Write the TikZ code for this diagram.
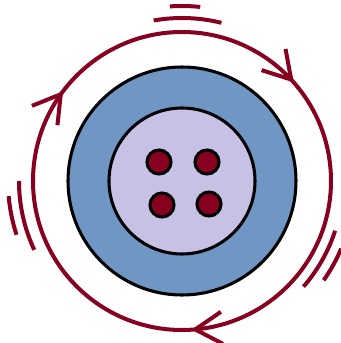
\documentclass[tikz,border=0pt]{standalone}
\usepackage{xcolor}
\usepackage{tikz}
\usetikzlibrary{arrows.meta,decorations.markings}

\definecolor{wine}{RGB}{135,0,32}
\definecolor{shellblue}{RGB}{112,150,196}
\definecolor{corelilac}{RGB}{200,193,230}

\begin{document}
\begin{tikzpicture}[x=0.75pt, y=0.75pt, line width=2.3pt,
    spin/.style={wine, line width=3pt}]
  \useasboundingbox (0,0) rectangle (341,343);
  \coordinate (c) at (182,162);
  % shells
  \filldraw[fill=shellblue] (c) circle (114);
  \filldraw[fill=corelilac] (c) circle (73);
  % four dots in the core
  \foreach \x/\y in {159/181, 207/181, 162/138, 209/139}
    \filldraw[fill=wine] (\x,\y) circle (12);
  % orbit, running clockwise
  \draw[spin, postaction={decorate}, decoration={markings,
      mark=at position 0.135 with {\arrow{Straight Barb[length=20pt,width=24pt]}},
      mark=at position 0.490 with {\arrow{Straight Barb[length=20pt,width=24pt]}},
      mark=at position 0.853 with {\arrow{Straight Barb[length=20pt,width=24pt]}}}]
    (c) ++(90:149) arc[start angle=90, end angle=-270, radius=149];
  % motion marks
  \foreach \a/\b/\r in {76/100/163, 84/94/175, 180/205/163, 185/198/174,
                        -18/-41/161, -23/-35/173}
    \draw[spin] (c) ++(\a:\r) arc[start angle=\a, end angle=\b, radius=\r];
\end{tikzpicture}
\end{document}
